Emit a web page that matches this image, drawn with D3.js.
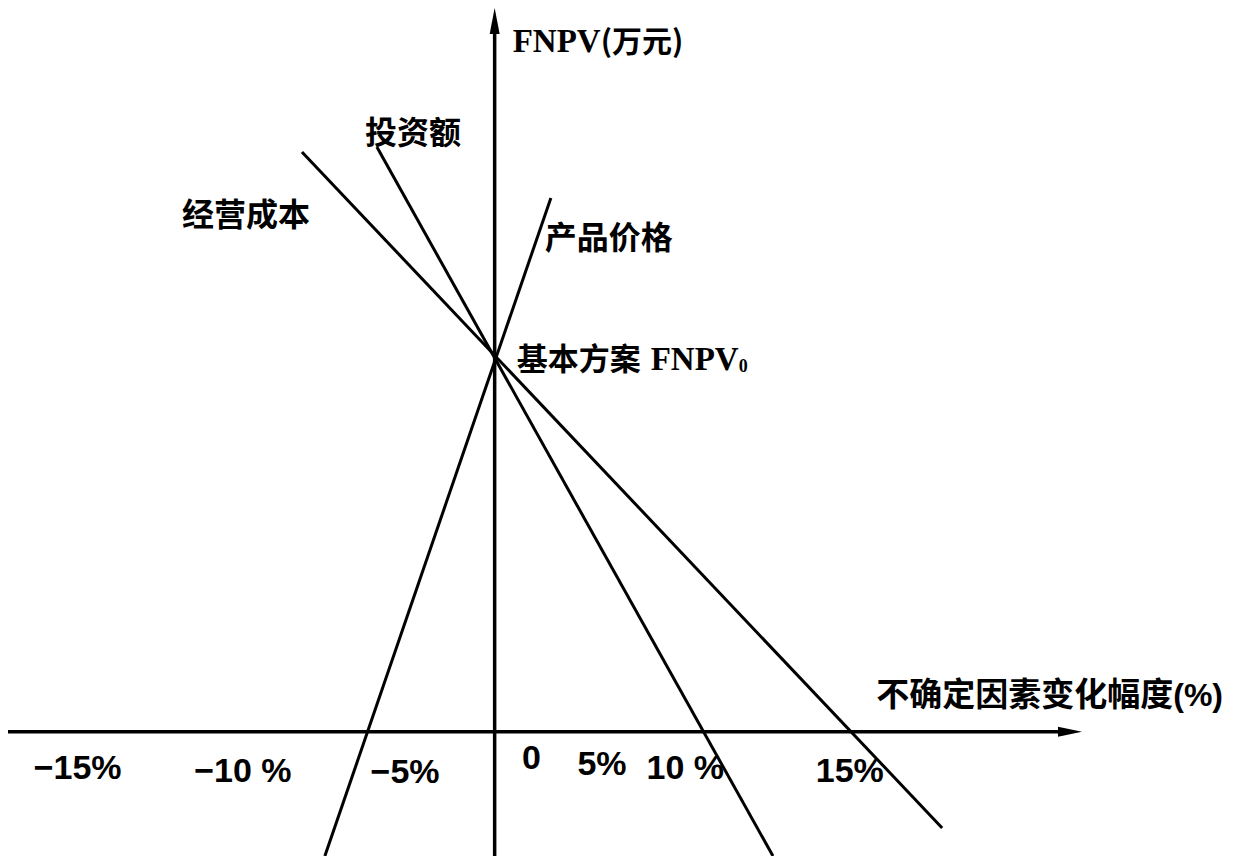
<!DOCTYPE html>
<html>
<head>
<meta charset="utf-8">
<script src="https://cdn.jsdelivr.net/npm/d3@7/dist/d3.min.js"></script>
<style>
  html, body { margin: 0; padding: 0; background: #fff; }
  svg { display: block; }
</style>
</head>
<body>
<script>
// ---------------- DATA ----------------
const seriesNames = ["经营成本", "投资额", "产品价格"];
// endpoints of each sensitivity line: change of factor (%-axis units) and FNPV (万元, schematic)
const seriesX = [[-6.89, 16.0], [-4.21, 9.95], [2.01, -6.07]];
const seriesY = [[155.1, -25.7], [156.4, -33.2], [142.8, -33.2]];
const baseLabel = "基本方案";
const baseX = 0;
const baseFNPV = 100;
const tickLabels = ["−15%", "−10 %", "−5%", "0", "5%", "10 %", "15%"];
const tickValues = [-14.93, -9.02, -3.22, 1.30, 3.82, 6.80, 12.68];
const xDomain = [-17.4, 21.0];
const yDomain = [-33.2, 193.6];
const yTitle = ["FNPV", "(万元)"];
const xTitle = ["不确定因素变化幅度", "(%)"];

// ---------------- LAYOUT ----------------
const W = 1236, H = 856;
const cjk = "'Noto Sans CJK SC', 'Noto Sans', sans-serif";
const serif = "'Liberation Serif', 'DejaVu Serif', serif";
const sans = "'Liberation Sans', 'DejaVu Sans', sans-serif";
const tickDy = [47, 50, 51, 37, 43, 47, 50];
const labelOffsets = [
  { dx: 8, dy: 74, anchor: "end" },     // 经营成本 relative to top end
  { dx: -12, dy: -3, anchor: "start" }, // 投资额
  { dx: -6, dy: 51, anchor: "start" }   // 产品价格
];

const svg = d3.select("body").append("svg")
  .attr("width", W).attr("height", H);

const x = d3.scaleLinear().domain(xDomain).range([8, 1082]);
const y = d3.scaleLinear().domain(yDomain).range([856, 8]);

const x0 = x(0), y0 = y(0);

// ---- x axis (domain line + labels) ----
const xAxis = d3.axisBottom(x)
  .tickValues(tickValues)
  .tickFormat((d, i) => tickLabels[i])
  .tickSize(0)
  .tickSizeOuter(0);

const gx = svg.append("g")
  .attr("transform", `translate(0,${y0})`)
  .call(xAxis);
gx.select(".domain")
  .attr("stroke", "#000").attr("stroke-width", 3.5)
  .attr("d", `M${x(xDomain[0])},0H${x(xDomain[1]) - 14}`);
gx.selectAll(".tick text")
  .attr("y", (d, i) => tickDy[i])
  .attr("dy", 0)
  .attr("fill", "#000")
  .style("font-family", sans)
  .style("font-weight", "bold")
  .style("font-size", "34px");

// x arrow head
svg.append("path")
  .attr("d", `M${x(xDomain[1])},${y0} L${x(xDomain[1]) - 24},${y0 - 5} L${x(xDomain[1]) - 24},${y0 + 5} Z`)
  .attr("fill", "#000");

// ---- y axis ----
svg.append("line")
  .attr("x1", x0).attr("x2", x0)
  .attr("y1", y(yDomain[0])).attr("y2", y(yDomain[1]) + 16)
  .attr("stroke", "#000").attr("stroke-width", 3.5);
svg.append("path")
  .attr("d", `M${x0},${y(yDomain[1])} L${x0 - 5},${y(yDomain[1]) + 26} L${x0 + 5},${y(yDomain[1]) + 26} Z`)
  .attr("fill", "#000");

// ---- sensitivity lines ----
const line = d3.line().x(d => x(d[0])).y(d => y(d[1]));
const seriesData = seriesNames.map((name, i) => ({
  name,
  pts: [[seriesX[i][0], seriesY[i][0]], [seriesX[i][1], seriesY[i][1]]]
}));

svg.append("g").selectAll("path")
  .data(seriesData)
  .join("path")
  .attr("d", d => line(d.pts))
  .attr("fill", "none")
  .attr("stroke", "#000")
  .attr("stroke-width", 3);

// series labels near the upper end of each line
svg.append("g").selectAll("text")
  .data(seriesData)
  .join("text")
  .attr("x", (d, i) => {
    const p = d.pts[0][1] > d.pts[1][1] ? d.pts[0] : d.pts[1];
    return x(p[0]) + labelOffsets[i].dx;
  })
  .attr("y", (d, i) => {
    const p = d.pts[0][1] > d.pts[1][1] ? d.pts[0] : d.pts[1];
    return y(p[1]) + labelOffsets[i].dy;
  })
  .attr("text-anchor", (d, i) => labelOffsets[i].anchor)
  .style("font-family", cjk)
  .style("font-weight", "bold")
  .style("font-size", "32px")
  .text(d => d.name);

// base point label
const bt = svg.append("text")
  .attr("x", x(baseX) + 22)
  .attr("y", y(baseFNPV) + 12)
  .style("font-weight", "bold");
bt.append("tspan").style("font-family", cjk).style("font-size", "31px").text(baseLabel);
bt.append("tspan").attr("dx", 10).style("font-family", serif).style("font-size", "33px").text("FNPV");
bt.append("tspan").attr("dy", 2).style("font-family", serif).style("font-size", "18px").text("0");

// y title
const yt = svg.append("text")
  .attr("x", x0 + 18)
  .attr("y", y(yDomain[1]) + 44)
  .style("font-weight", "bold");
yt.append("tspan").style("font-family", serif).style("font-size", "33px").text(yTitle[0]);
yt.append("tspan").style("font-family", cjk).style("font-size", "30px").text(yTitle[1]);

// x title
const xt = svg.append("text")
  .attr("x", x(xDomain[1]) + 141)
  .attr("y", y0 - 26)
  .attr("text-anchor", "end")
  .style("font-weight", "bold");
xt.append("tspan").style("font-family", cjk).style("font-size", "33px").text(xTitle[0]);
xt.append("tspan").style("font-family", sans).style("font-size", "32px").text(xTitle[1]);
</script>
</body>
</html>
